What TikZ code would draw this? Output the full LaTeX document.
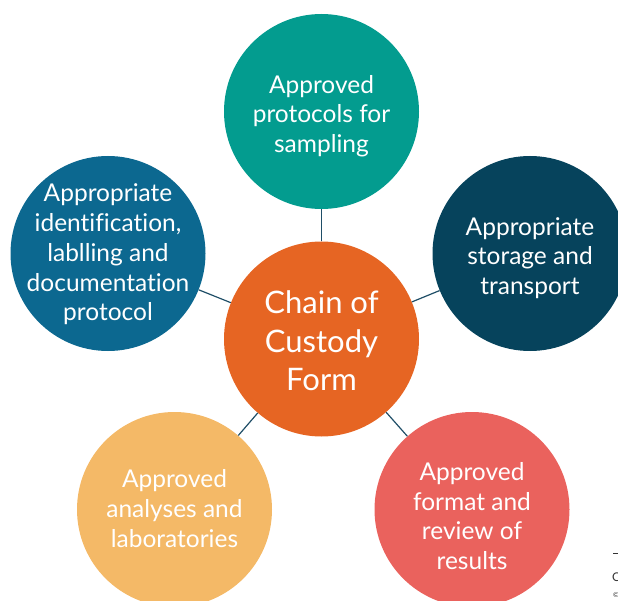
\documentclass[tikz,border=0pt]{standalone}
\usepackage{fontspec}
\setmainfont[Ligatures={NoCommon}]{Lato}
\definecolor{tealc}{HTML}{039C8F}
\definecolor{bluec}{HTML}{0C6890}
\definecolor{navyc}{HTML}{06435C}
\definecolor{orangec}{HTML}{E66523}
\definecolor{yellowc}{HTML}{F4B967}
\definecolor{coralc}{HTML}{EA625D}
\definecolor{linkc}{HTML}{1F4E67}
\begin{document}
\begin{tikzpicture}[x=1pt,y=-1pt,
  bubble/.style={circle, minimum size=195pt, inner sep=0pt},
  txt/.style={inner sep=0pt, text=white, align=center,
    font=\fontsize{24.5}{29.7}\selectfont},
  link/.style={draw=linkc, line width=1.2pt},
  frag/.style={inner sep=0pt, text=black!80}]
\useasboundingbox (0,0) rectangle (618,601);
\clip (0,0) rectangle (618,601);
\node[bubble, fill=orangec] (c) at (321.5,339) {};
\node[bubble, fill=tealc] (t) at (321.5,111.5) {};
\node[bubble, fill=bluec] (l) at (108,253.5) {};
\node[bubble, fill=navyc] (r) at (530,253.5) {};
\node[bubble, fill=yellowc] (bl) at (174.5,509.5) {};
\node[bubble, fill=coralc] (br) at (472,509.5) {};
\node[txt, font=\fontsize{31}{38.5}\selectfont] (ct) at ([yshift=-2pt]c.center) {Chain of\\Custody\\Form};
\node[txt] (tt) at ([yshift=-4.5pt]t.center) {Approved\\protocols for\\sampling};
\node[txt] (lt) at ([yshift=-1pt]l.center) {Appropriate\\identification,\\lablling and\\documentation\\protocol};
\node[txt] (rt) at ([yshift=-4.5pt]r.center) {Appropriate\\storage and\\transport};
\node[txt] (blt) at ([yshift=1pt]bl.center) {Approved\\analyses and\\laboratories};
\node[txt] (brt) at ([yshift=-6.5pt]br.center) {Approved\\format and\\review of\\results};
\draw[link] (c) -- (t);
\draw[link] (c) -- (l);
\draw[link] (c) -- (r);
\draw[link] (c) -- (bl);
\draw[link] (c) -- (br);
\coordinate (d1) at (613,553);
\coordinate (d2) at (618,553);
\draw[draw=black!80, line width=0.8pt] (d1) -- (d2);
\node[frag, anchor=west, font=\fontsize{12}{12}\selectfont] (fc) at (612,577) {C};
\node[frag, anchor=west, font=\fontsize{7}{7}\selectfont] (fcopy) at (613,595) {©};
\end{tikzpicture}
\end{document}
